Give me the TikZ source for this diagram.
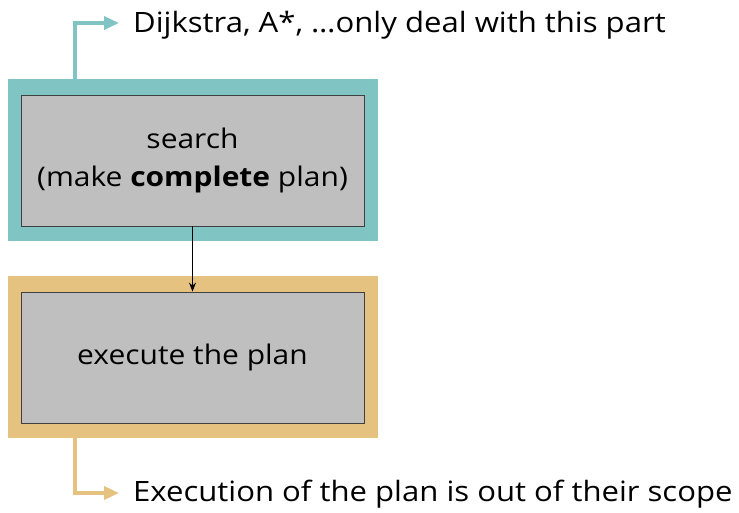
\documentclass[tikz,border=0pt]{standalone}
\usepackage{fontspec}
\setmainfont{Open Sans}[FakeStretch=1.11]
\usetikzlibrary{arrows.meta}
\definecolor{tealframe}{RGB}{128,196,195}
\definecolor{tanframe}{RGB}{229,194,127}
\definecolor{boxgray}{RGB}{191,191,191}
\tikzset{
  frame/.style={minimum width=370pt, minimum height=162pt, inner sep=0pt, draw=none},
  stage/.style={fill=boxgray, draw=black!75, line width=0.8pt, minimum width=343pt,
    minimum height=131pt, inner sep=0pt, align=center, font=\fontsize{27}{38}\selectfont},
  note/.style={anchor=base west, inner sep=0pt, font=\fontsize{28}{34}\selectfont},
  callout/.style={line width=3.5pt, -{Triangle[length=15pt,width=13pt]}},
  flow/.style={line width=1pt, -{Stealth[length=9pt,width=7pt]}}
}
\begin{document}
\begin{tikzpicture}[x=1pt,y=-1pt]
\useasboundingbox (0,0) rectangle (739,512);
% coloured frames
\node[frame, fill=tealframe] (f1) at (193,160) {};
\node[frame, fill=tanframe] (f2) at (193,357) {};
% stages
\node[stage] (search) at (192.5,160.5) {search\\(make \textbf{complete} plan)};
\node[stage] (exec) at (192.5,357.5) {execute the plan};
\draw[flow] (search.south) -- (exec.north);
% side notes
\node[note] (n1) at (133,32) {Dijkstra, A*, \dots{}only deal with this part};
\node[note] (n2) at (133,501) {Execution of the plan is out of their scope};
% callout routes
\coordinate (s1) at (75,79);
\coordinate (t1) at (119,23);
\coordinate (s2) at (75,438);
\coordinate (t2) at (119,493);
\draw[callout, tealframe] (s1) |- (t1);
\draw[callout, tanframe] (s2) |- (t2);
\end{tikzpicture}
\end{document}
